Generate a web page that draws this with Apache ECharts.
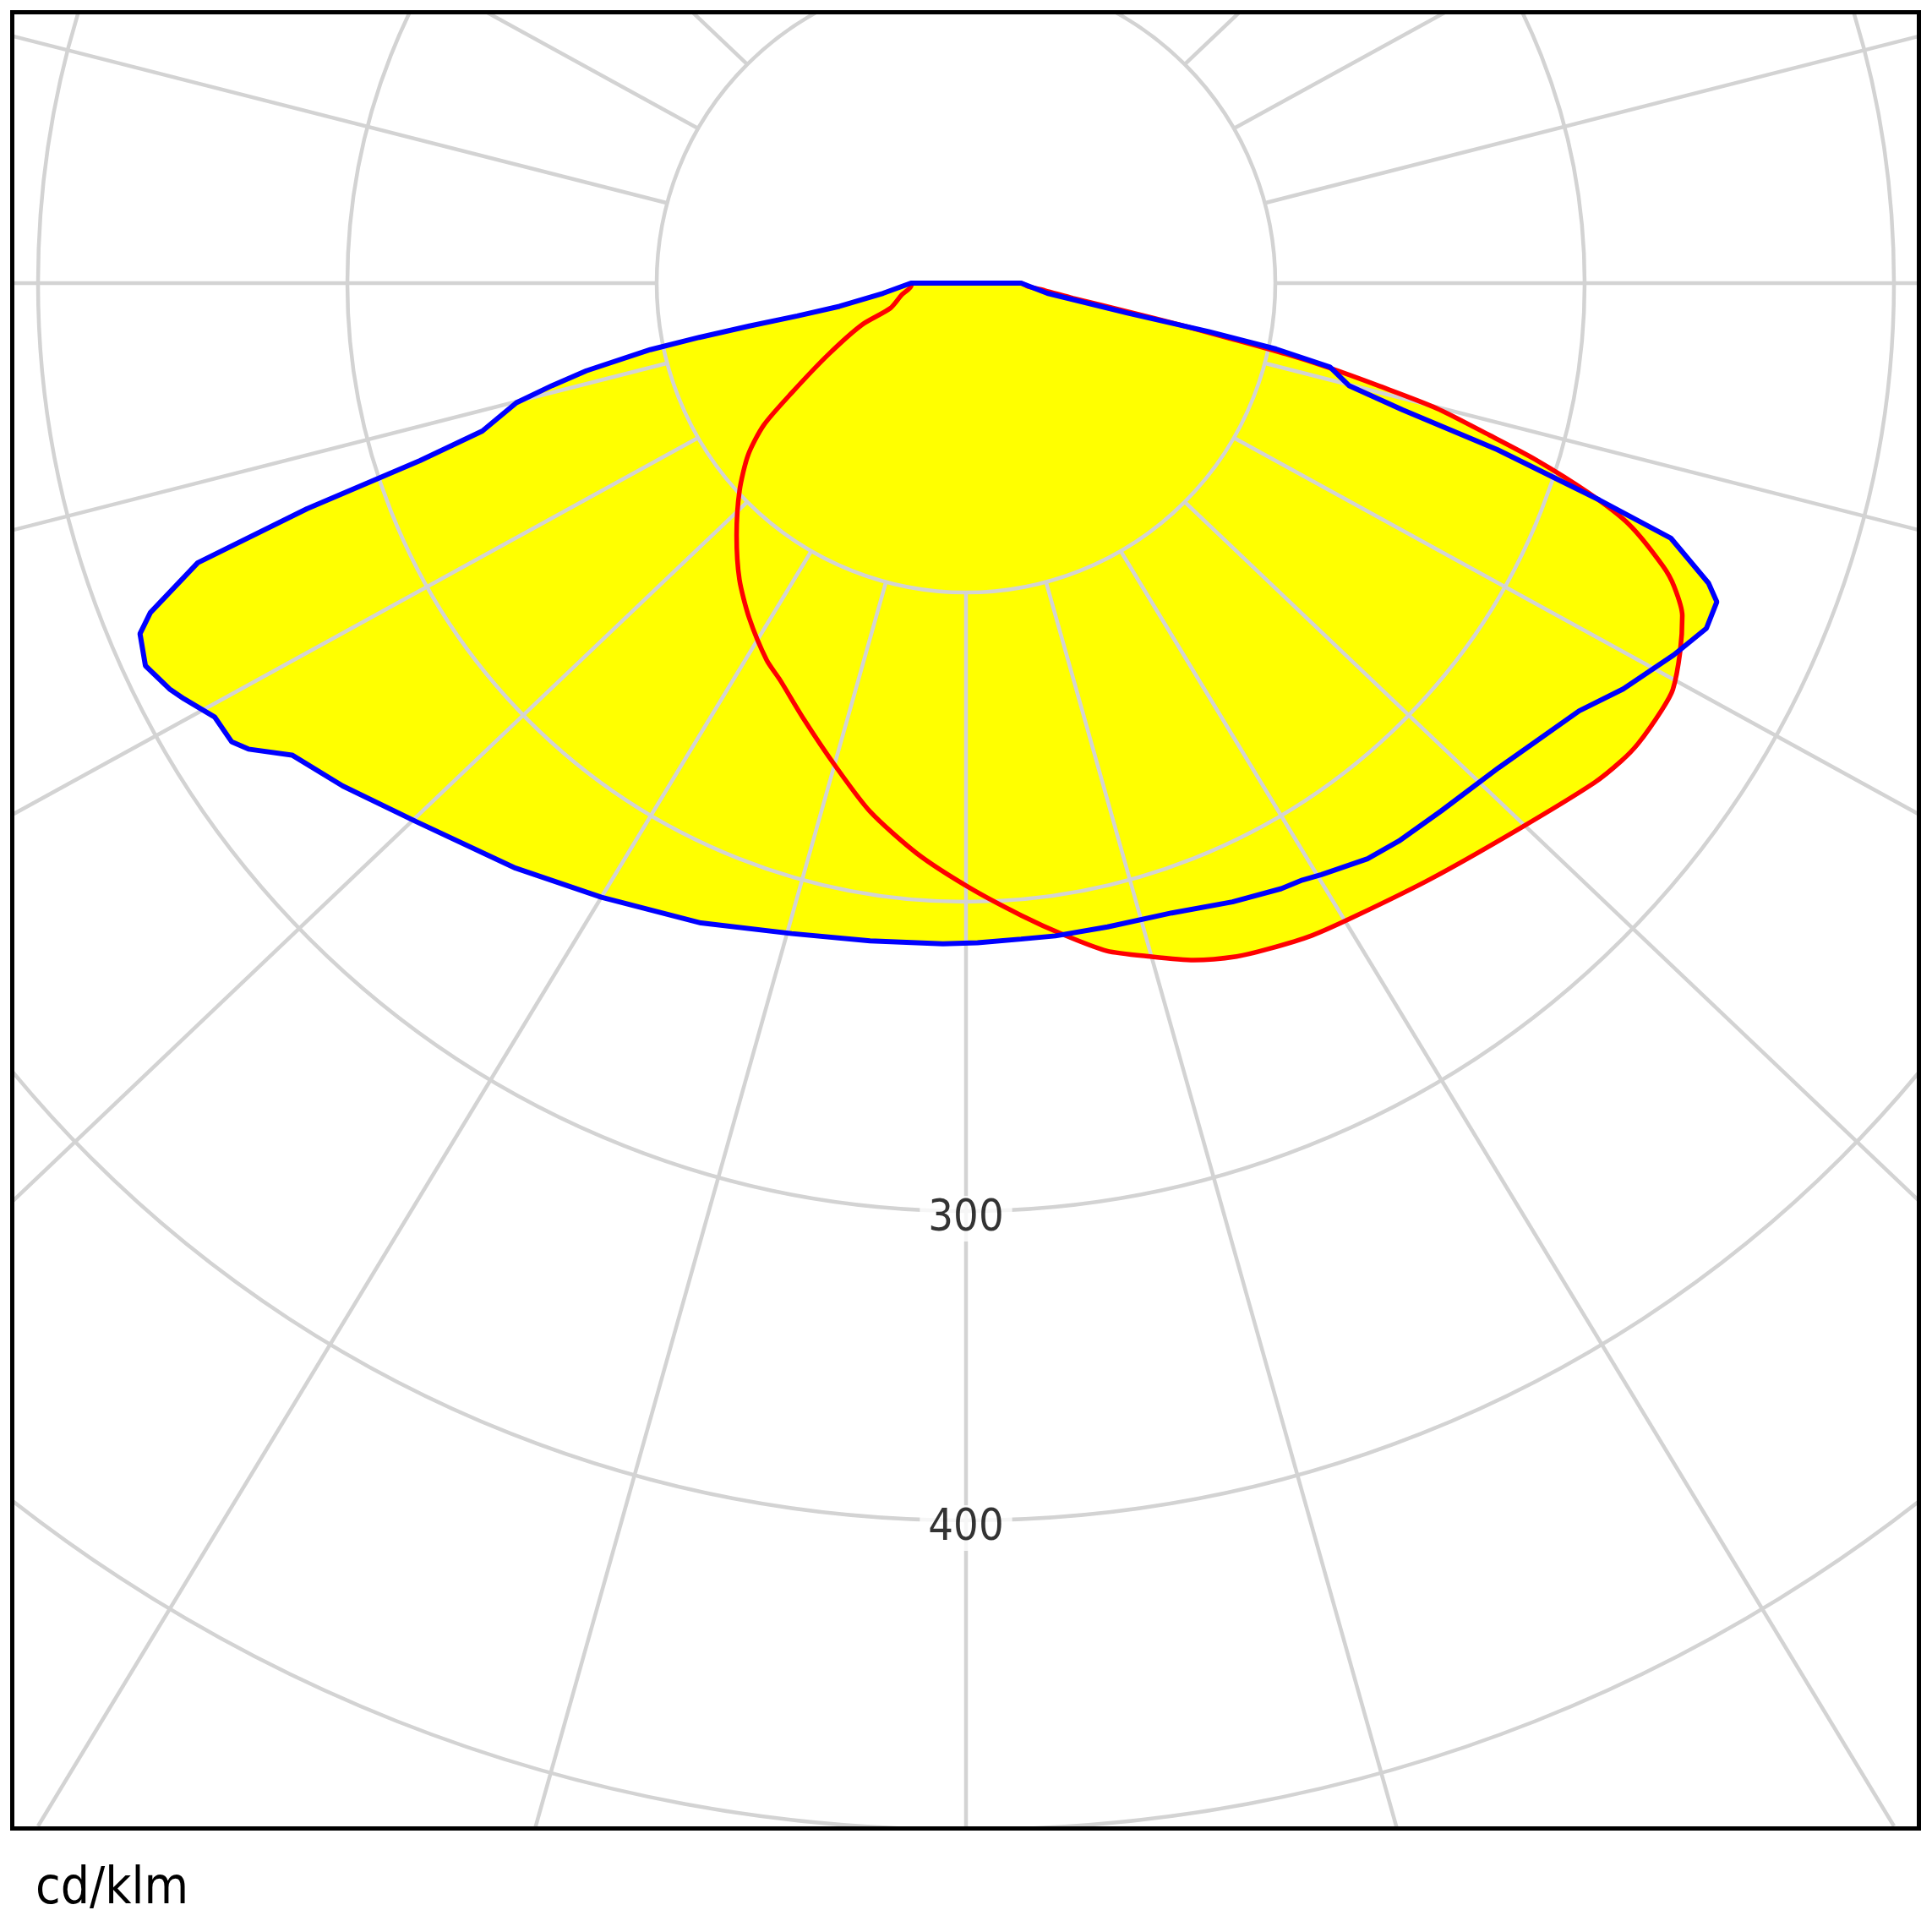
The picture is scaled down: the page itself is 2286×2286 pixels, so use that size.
<!DOCTYPE html>
<html>
<head>
<meta charset="utf-8">
<script src="https://cdn.jsdelivr.net/npm/echarts@6/dist/echarts.min.js"></script>
<style>
html,body{margin:0;padding:0;background:#fff;width:2286px;height:2286px;overflow:hidden}
#frame{position:absolute;left:12px;top:12px;width:2251px;height:2144px;border:5px solid #000;overflow:hidden;background:#fff}
#chart{width:2251px;height:2144px}
#unit{position:absolute;left:42px;top:2201px;font-family:"DejaVu Sans Condensed","DejaVu Sans",sans-serif;font-size:60px;line-height:60px;color:#000;white-space:nowrap}
</style>
</head>
<body>
<div id="frame"><div id="chart"></div></div>
<div id="unit"></div>
<script>
// ---- data (cd/klm), gamma in degrees from nadir; negative = left half-plane ----
const unitLabel = 'cd/klm';
const radiusTickLabels = [300, 400];
const gridAngles = [0, 15, 30, 45, 60, 75, 90, 105, 120, 135, 150, 165, 180, 195, 210, 225, 240, 255, 270, 285, 300, 315, 330, 345];

const bluePlaneGamma = [-90, -83, -79.6, -79, -78.8, -78.5, -78.1, -77, -76.1, -75.1,
  -73, -72, -71.1, -70, -68, -67, -65, -63, -62, -60,
  -58, -57, -55, -51.1, -45.6, -37.6, -30.7, -22.5, -15, -8.3,
  -2, 1, 4.8, 7.8, 12.4, 18.1, 23.3, 27.5, 29.4, 31,
  34.9, 37.8, 42, 47.7, 55.1, 58.3, 62.3, 65, 67, 68,
  70.1, 71.1, 72.6, 73.8, 75, 77, 78, 78.7, 79.5, 82.9,
  90];
const bluePlaneIntensity = [17.8, 27, 41.6, 55.6, 71.4, 88, 104.3, 126, 137.8, 150.4,
  163.5, 185.6, 225.2, 264.3, 284.4, 290.1, 292.7, 289, 286.3, 280.5,
  279.9, 276.6, 266, 258.9, 248.8, 238.7, 230.9, 223.9, 217.7, 214.9,
  213.7, 213.3, 212.8, 213, 213.1, 214.2, 217.8, 220.7, 221.5, 223.1,
  226.9, 228.3, 229.6, 232.8, 241.7, 249.7, 258.5, 264.1, 263.7, 258.9,
  242.4, 216.4, 180, 147, 128.3, 120.8, 102.5, 80, 53.1, 26.5,
  17.8];

const redPlaneGamma = [-90, -87.4, -79.5, -71.6, -68.2, -62.6, -57.8, -54.9, -51.7, -47.5,
  -42.3, -37.4, -32.9, -27.9, -25.1, -20.5, -15.1, -10.3, -4.9, 0.3,
  5, 8.6, 11.9, 15.3, 18.6, 21.9, 24.4, 27.9, 31.7, 38,
  45.4, 51.5, 53.9, 55.6, 58.5, 60.1, 62.7, 65.1, 66.8, 67.9,
  70, 71.4, 72.8, 73.8, 75.1, 76, 76.9, 77.5, 78.2, 79,
  80, 82, 84.6, 87, 90];
const redPlaneIntensity = [17.7, 17.7, 21.2, 25.8, 36.2, 50.1, 66.6, 80, 89.8, 99.3,
  110.2, 120.6, 129, 137.8, 141.7, 150.2, 161.8, 173.6, 185.1, 195.4,
  205.2, 213.2, 220.6, 225.7, 230.9, 234.6, 236.4, 238.7, 240.3, 244.3,
  251.2, 259.5, 262.2, 263.4, 263.9, 263.6, 259.8, 255.3, 249.1, 243.2,
  228.1, 212.1, 192.5, 176.3, 157.5, 138, 119.9, 106, 86.5, 70,
  53, 35, 25.7, 20, 17.8];

// ---- build ----
document.getElementById('unit').textContent = unitLabel;

function toAxisAngle(g) { return g < 0 ? 360 + g : g; }
function buildCurve(gammas, values) {
  const pts = [[0, 180]];
  gammas.forEach((g, i) => pts.push([values[i], toAxisAngle(g)]));
  pts.push([0, 180]);
  return pts;
}
const blueData = buildCurve(bluePlaneGamma, bluePlaneIntensity);
const redData = buildCurve(redPlaneGamma, redPlaneIntensity);

const GRID = '#d3d3d3';
const GRID_W = 4.5;
const FONT = '"DejaVu Sans Condensed", "DejaVu Sans", sans-serif';
const OUTER_SQUASH = 0.96; // radial grid lines' outer ends sit on a slightly flattened ring, as in the original

const series = [];
// filled union (yellow)
[redData, blueData].forEach(d => series.push({
  type: 'line', coordinateSystem: 'polar', data: d, symbol: 'none', silent: true,
  lineStyle: { width: 0, opacity: 0 }, areaStyle: { color: '#ffff00', opacity: 1 },
  z: 1, clip: false, smooth: d === redData ? 0.25 : false
}));
// radial grid lines, starting at the 100 ring
gridAngles.forEach(a => {
  const rad = a * Math.PI / 180;
  const sx = Math.sin(rad), cy = Math.cos(rad) * OUTER_SQUASH;
  const outA = (Math.atan2(sx, cy) * 180 / Math.PI + 360) % 360;
  const outR = 600 * Math.hypot(sx, cy);
  series.push({
    type: 'line', coordinateSystem: 'polar', data: [[100, a], [outR, outA]], symbol: 'none', silent: true,
    lineStyle: { color: GRID, width: GRID_W }, z: 3
  });
});
// curves
series.push({
  type: 'line', coordinateSystem: 'polar', data: redData, symbol: 'none', silent: true,
  smooth: 0.25, lineStyle: { color: '#ff0000', width: 5.5 }, z: 5, clip: false
});
series.push({
  type: 'line', coordinateSystem: 'polar', data: blueData, symbol: 'none', silent: true,
  lineStyle: { color: '#0000ff', width: 6 }, z: 6, clip: false
});
// ring labels
series.push({
  type: 'scatter', coordinateSystem: 'polar', data: radiusTickLabels.map(v => [v, 0]),
  symbolSize: 1, itemStyle: { color: 'rgba(0,0,0,0)' }, silent: true, z: 10,
  label: {
    show: true, position: 'inside', formatter: p => String(p.value[0]),
    color: '#000', fontFamily: FONT, fontSize: 52, lineHeight: 34, offset: [0, 9],
    backgroundColor: '#fff', padding: [10, 10, 10, 10]
  }
});

const chart = echarts.init(document.getElementById('chart'), null, { renderer: 'canvas' });
chart.setOption({
  animation: false,
  backgroundColor: '#fff',
  polar: { center: [1126, 318], radius: 2196 },
  angleAxis: {
    type: 'value', min: 0, max: 360, startAngle: 270, clockwise: false,
    axisLine: { show: false }, axisTick: { show: false }, axisLabel: { show: false },
    splitLine: { show: false }, splitArea: { show: false }
  },
  radiusAxis: {
    type: 'value', min: 0, max: 600, interval: 100, z: 3,
    axisLine: { show: false }, axisTick: { show: false }, axisLabel: { show: false },
    splitLine: { show: true, lineStyle: { color: GRID, width: GRID_W } },
    splitArea: { show: false }
  },
  series: series
});
</script>
</body>
</html>
